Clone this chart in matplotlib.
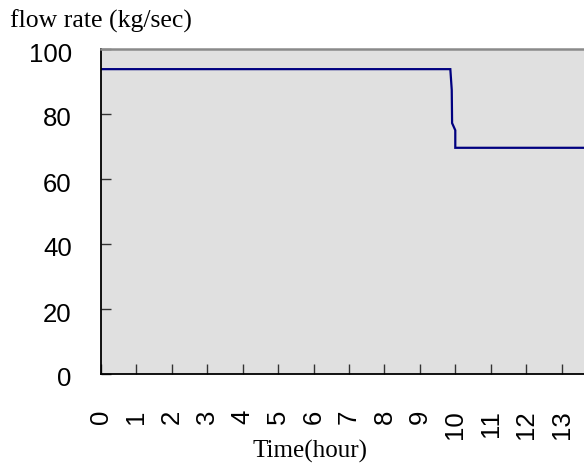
import matplotlib
matplotlib.use("Agg")
import matplotlib.pyplot as plt
from matplotlib.transforms import ScaledTranslation

# data
time_hr = [0.0, 9.86, 9.90, 9.91, 10.0, 10.0, 14.0]
flow = [93.8, 93.8, 87.4, 77.2, 75.0, 69.6, 69.6]
x_ticks = list(range(0, 14))
x_labels = [str(v) for v in x_ticks]
y_ticks = [0, 20, 40, 60, 80, 100]
y_labels = [str(v) for v in y_ticks]

W, H = 584, 468
fig = plt.figure(figsize=(W / 100, H / 100), dpi=100)
left, right, top, bottom = 101, 597, 49, 374
ax = fig.add_axes([left / W, 1 - bottom / H, (right - left) / W, (bottom - top) / H])
ax.set_facecolor("#e0e0e0")

ax.plot(time_hr, flow, color="#000080", lw=1.6, solid_joinstyle="miter")

ax.set_xlim(0, 14)
ax.set_ylim(0, 100)

ax.set_xticks(x_ticks)
ax.set_xticklabels(x_labels, rotation=90, fontsize=18.5, family="Liberation Sans", va="top", ha="center")
ax.set_yticks(y_ticks)
ax.set_yticklabels(y_labels, fontsize=18.5, family="Liberation Sans")
ax.tick_params(axis="x", direction="in", length=7, width=1, color="#333333", pad=26)
ax.tick_params(axis="y", direction="in", length=7, width=1, color="#333333", pad=21)

shift = ScaledTranslation(0, -3 / 100, fig.dpi_scale_trans)
for lab in ax.get_yticklabels():
    lab.set_transform(lab.get_transform() + shift)

for s in ["left", "bottom"]:
    ax.spines[s].set_color("black")
    ax.spines[s].set_linewidth(1.3)
ax.spines["top"].set_color("#8a8a8a")
ax.spines["top"].set_linewidth(1.8)
ax.spines["right"].set_visible(False)

fig.text(10 / W, 1 - 21 / H, "flow rate (kg/sec)", family="Liberation Serif", fontsize=18.5,
         ha="left", va="center")
fig.text(310 / W, 1 - 451 / H, "Time(hour)", family="Liberation Serif", fontsize=18,
         ha="center", va="center")

fig.savefig("out.png", dpi=100)
